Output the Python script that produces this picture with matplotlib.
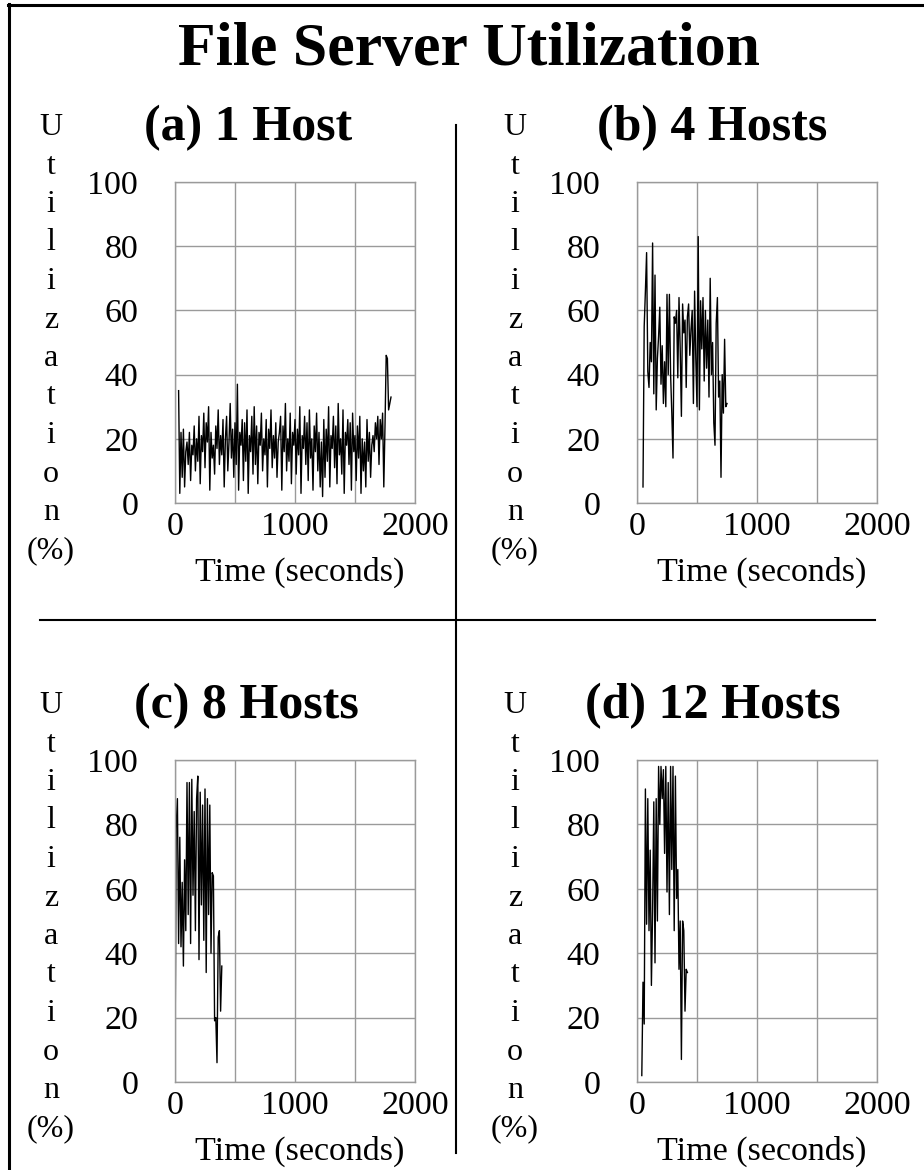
"""
File server utilization, four host configurations.
"""

import numpy as np
import matplotlib
matplotlib.use("Agg")
import matplotlib.pyplot as plt
from matplotlib.lines import Line2D
from matplotlib.ticker import MultipleLocator

# ---- data (utilization % sampled every SAMPLE_STEP seconds) ----
SAMPLE_STEP = 10

a_start = 30
a_util = [
    35, 3, 22, 8, 23, 5, 16, 19, 12, 22, 7, 18, 15, 24, 10, 20, 13, 27, 6, 21,
    16, 28, 11, 25, 19, 30, 4, 22, 14, 18, 9, 24, 17, 29, 12, 21, 15, 26, 5, 20,
    27, 10, 19, 31, 14, 23, 8, 25, 12, 37, 4, 22, 18, 26, 7, 25, 13, 29, 3, 21,
    16, 27, 9, 30, 12, 24, 6, 22, 18, 28, 10, 20, 15, 26, 5, 23, 17, 29, 11, 21,
    14, 25, 8, 19, 22, 27, 4, 24, 16, 31, 10, 20, 13, 28, 6, 22, 18, 26, 9, 23,
    15, 30, 3, 21, 17, 27, 12, 25, 7, 29, 14, 20, 4, 24, 16, 28, 10, 22, 5, 19,
    2, 26, 8, 23, 13, 30, 5, 21, 17, 27, 11, 24, 6, 31, 15, 20, 9, 29, 3, 22,
    18, 26, 12, 25, 4, 28, 16, 21, 7, 24, 14, 27, 3, 20, 10, 19, 5, 26, 13, 22,
    8, 18, 21, 16, 25, 20, 27, 12, 26, 20, 28, 5, 24, 46, 45, 29, 31, 33,
]

b_start = 50
b_util = [
    5, 55, 66, 78, 41, 36, 50, 44, 81, 34, 71, 29, 45, 52, 61, 37, 49, 31, 44, 30,
    65, 40, 65, 40, 28, 14, 58, 56, 60, 39, 64, 48, 27, 62, 53, 57, 36, 58, 62, 46,
    54, 60, 31, 66, 45, 30, 83, 29, 63, 48, 64, 38, 60, 42, 57, 33, 70, 40, 50, 25,
    18, 56, 64, 33, 38, 8, 40, 28, 51, 30, 31,
]

c_start = 0
c_util = [
    6, 79, 88, 43, 76, 42, 62, 36, 69, 47, 93, 52, 93, 43, 94, 58, 84, 47, 88, 95,
    38, 90, 55, 86, 44, 91, 34, 88, 52, 86, 40, 65, 64, 19, 20, 6, 45, 47, 22, 36,
]

d_start = 40
d_util = [
    2, 31, 18, 91, 49, 88, 47, 72, 30, 53, 87, 37, 88, 50, 98, 80, 98, 88, 97, 71,
    98, 59, 93, 52, 98, 66, 98, 47, 95, 57, 66, 35, 50, 7, 50, 47, 22, 35, 34,
]

panels = [
    ("(a) 1 Host", a_start, a_util),
    ("(b) 4 Hosts", b_start, b_util),
    ("(c) 8 Hosts", c_start, c_util),
    ("(d) 12 Hosts", d_start, d_util),
]

YLABEL_CHARS = list("Utilization") + ["(%)"]

# ---- layout (pixels of a 924x1170 canvas) ----
W, H = 924, 1170
SERIF = "Liberation Serif"
GRID = "#9a9a9a"

axes_boxes = [  # left, top, right, bottom
    (175, 182, 415, 503),
    (637, 182, 877, 503),
    (175, 760, 415, 1082),
    (637, 760, 877, 1082),
]
title_center = [248, 712, 246, 713]
ylabel_x = [51, 515, 51, 515]


def fx(x):
    return x / W


def fy(y):
    return 1 - y / H


fig = plt.figure(figsize=(W / 100, H / 100), dpi=100)
fig.patch.set_facecolor("white")

fig.text(fx(469), fy(65), "File Server Utilization", ha="center", va="baseline",
         fontsize=44.5, fontweight="bold", family=SERIF)

for i, (label, start, util) in enumerate(panels):
    l, t, r, b = axes_boxes[i]
    ax = fig.add_axes([fx(l), fy(b), (r - l) / W, (b - t) / H])
    times = start + SAMPLE_STEP * np.arange(len(util))
    ax.plot(times, util, color="black", lw=1.0)

    ax.set_xlim(0, 2000)
    ax.set_ylim(0, 100)
    ax.xaxis.set_major_locator(MultipleLocator(1000))
    ax.xaxis.set_minor_locator(MultipleLocator(500))
    ax.yaxis.set_major_locator(MultipleLocator(20))
    ax.grid(True, which="both", color=GRID, lw=1.0)
    ax.set_axisbelow(True)
    for s in ax.spines.values():
        s.set_color(GRID)
        s.set_linewidth(1.0)
    ax.tick_params(which="both", length=0)
    ax.tick_params(axis="y", pad=26.5)
    ax.tick_params(axis="x", pad=6)
    for tl in ax.get_xticklabels() + ax.get_yticklabels():
        tl.set_fontfamily(SERIF)
        tl.set_fontsize(24.5)

    # panel title
    fig.text(fx(title_center[i]), fy(t - 42), label, ha="center", va="baseline",
             fontsize=36, fontweight="bold", family=SERIF)

    # x label
    fig.text(fx((l + r) / 2 + 5), fy(b + 78), "Time (seconds)", ha="center",
             va="baseline", fontsize=24.5, family=SERIF)

    # stacked y label
    for k, ch in enumerate(YLABEL_CHARS):
        fig.text(fx(ylabel_x[i]), fy(t - 47 + 38.5 * k), ch, ha="center",
                 va="baseline", fontsize=23, family=SERIF)

# separators and frame
fig.add_artist(Line2D([fx(456), fx(456)], [fy(125), fy(1153)], color="black", lw=1.5))
fig.add_artist(Line2D([fx(40), fx(875)], [fy(620), fy(620)], color="black", lw=1.5))
fig.add_artist(Line2D([fx(8.5), fx(8.5)], [fy(4), fy(1170)], color="black", lw=2.2))
fig.add_artist(Line2D([fx(8), fx(924)], [fy(5), fy(5)], color="black", lw=2.2))

fig.savefig("out.png", dpi=100)
